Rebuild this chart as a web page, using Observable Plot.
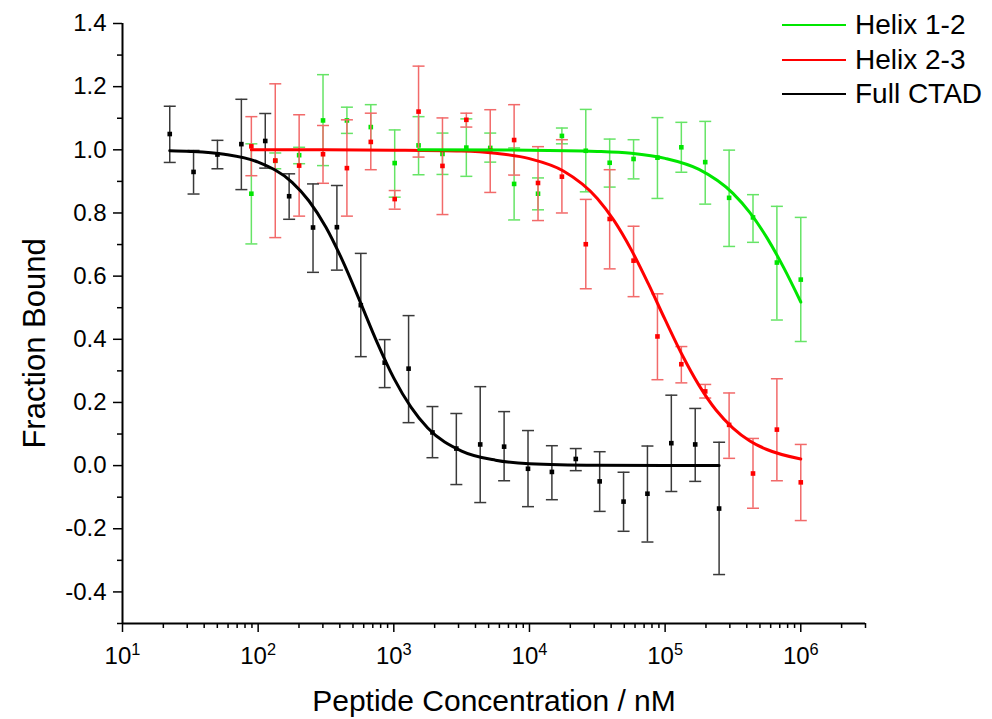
<!DOCTYPE html>
<html><head><meta charset="utf-8">
<script src="https://cdn.jsdelivr.net/npm/d3@7"></script>
<script src="https://cdn.jsdelivr.net/npm/@observablehq/plot@0.6"></script>
<style>
body{margin:0;background:#fff;font-family:"Liberation Sans",Arial,sans-serif;}
#wrap{position:relative;width:992px;height:719px;}
.lg{position:absolute;left:782px;width:210px;height:34px;}
.lg .sw{position:absolute;left:0;top:16px;width:64px;height:2px;}
.lg .tx{position:absolute;left:73px;top:0;font-size:28px;line-height:34px;color:#000;white-space:nowrap;}
</style></head><body><div id="wrap"></div>
<script>
// ---- data ----
const seriesNames = ["Helix 1-2", "Helix 2-3", "Full CTAD"];
const seriesColors = ["#00e600", "#ff0000", "#000000"];
const barColors = ["#66e466", "#f26a6a", "#3a3a3a"];

const concCTAD = [22.3, 33.4, 50.1, 75.2, 112.8, 169.2, 253.8, 380.6, 571, 856.5, 1285, 1927, 2890, 4335, 6503, 9755, 14632, 21948, 32922, 49383, 74074, 111111, 166667, 250000];
const ctadY  = [1.050, 0.930, 0.985, 1.018, 1.028, 0.853, 0.754, 0.755, 0.508, 0.326, 0.307, 0.105, 0.054, 0.067, 0.060, -0.010, -0.020, 0.021, -0.050, -0.114, -0.089, 0.071, 0.067, -0.136];
const ctadLo = [0.960, 0.860, 0.940, 0.874, 0.942, 0.780, 0.612, 0.619, 0.345, 0.247, 0.136, 0.025, -0.060, -0.117, -0.048, -0.130, -0.108, -0.016, -0.145, -0.208, -0.242, -0.082, -0.050, -0.345];
const ctadHi = [1.138, 0.998, 1.030, 1.160, 1.115, 0.924, 0.892, 0.887, 0.672, 0.399, 0.475, 0.187, 0.165, 0.250, 0.171, 0.111, 0.063, 0.054, 0.044, -0.021, 0.062, 0.223, 0.181, 0.074];

const concHelix = [89.1, 133.7, 200.5, 300.7, 451.1, 676.6, 1015, 1522, 2284, 3425, 5138, 7707, 11561, 17342, 26012, 39018, 58528, 87791, 131687, 197531, 296296, 444444, 666667, 1000000];
const h23Y  = [1.011, 0.966, 0.950, 0.986, 0.942, 1.025, 0.844, 1.121, 0.949, 1.095, 0.998, 1.031, 0.895, 0.915, 0.701, 0.781, 0.649, 0.409, 0.321, 0.235, 0.129, -0.025, 0.114, -0.053];
const h23Lo = [0.918, 0.722, 0.790, 0.894, 0.790, 0.937, 0.812, 0.977, 0.795, 1.072, 0.865, 0.920, 0.776, 0.800, 0.560, 0.623, 0.535, 0.272, 0.262, 0.214, 0.023, -0.135, -0.048, -0.174];
const h23Hi = [1.105, 1.209, 1.111, 1.077, 1.095, 1.116, 0.871, 1.265, 1.101, 1.116, 1.127, 1.143, 1.010, 1.032, 0.843, 0.937, 0.758, 0.544, 0.377, 0.257, 0.230, 0.086, 0.275, 0.067];
const h12Y  = [0.861, 0.965, 0.983, 1.093, 1.093, 1.072, 0.958, 1.014, 0.987, 1.007, 1.006, 0.892, 0.861, 1.044, 0.997, 0.959, 0.971, 0.975, 1.008, 0.961, 0.848, 0.786, 0.643, 0.589];
const h12Lo = [0.702, 0.940, 0.956, 0.950, 1.052, 1.000, 0.850, 0.921, 0.922, 0.916, 0.961, 0.778, 0.810, 1.019, 0.867, 0.882, 0.908, 0.846, 0.929, 0.828, 0.694, 0.707, 0.461, 0.393];
const h12Hi = [1.019, 0.990, 1.008, 1.238, 1.135, 1.143, 1.063, 1.105, 1.053, 1.098, 1.053, 1.006, 0.911, 1.069, 1.128, 1.034, 1.032, 1.102, 1.087, 1.090, 0.999, 0.858, 0.821, 0.786];

// fitted curves, points
const fitCTADx = [22.3, 31.6, 56.2, 100, 178, 237, 316, 422, 562, 750, 1000, 1334, 1778, 3162, 5623, 10000, 31623, 100000, 250000];
const fitCTADy = [0.997, 0.995, 0.986, 0.961, 0.897, 0.838, 0.755, 0.646, 0.521, 0.392, 0.277, 0.186, 0.119, 0.046, 0.017, 0.006, 0.001, 0.000, 0.000];
const fitH23x = [89.1, 316, 1000, 3162, 5623, 10000, 17783, 31623, 42170, 56234, 74989, 100000, 133352, 177828, 237137, 316228, 421697, 562341, 1000000];
const fitH23y = [1.000, 1.000, 0.999, 0.996, 0.989, 0.972, 0.933, 0.846, 0.775, 0.684, 0.577, 0.462, 0.351, 0.254, 0.176, 0.119, 0.078, 0.051, 0.021];
const fitH12x = [1522, 10000, 31623, 56234, 100000, 177828, 316228, 421697, 562341, 749894, 1000000];
const fitH12y = [1.000, 0.999, 0.995, 0.989, 0.973, 0.938, 0.862, 0.801, 0.722, 0.626, 0.518];

const xMajor = [10, 100, 1000, 10000, 100000, 1000000];
const xMinor = [20,30,40,50,60,70,80,90,200,300,400,500,600,700,800,900,2000,3000,4000,5000,6000,7000,8000,9000,
  20000,30000,40000,50000,60000,70000,80000,90000,200000,300000,400000,500000,600000,700000,800000,900000,2000000,3000000];
const yMajor = [-0.4, -0.2, 0.0, 0.2, 0.4, 0.6, 0.8, 1.0, 1.2, 1.4];
const yMinor = [-0.5, -0.3, -0.1, 0.1, 0.3, 0.5, 0.7, 0.9, 1.1, 1.3];
const xTitle = "Peptide Concentration / nM";
const yTitle = "Fraction Bound";

// ---- build tables ----
function pts(conc, y, lo, hi, s) { return conc.map((c, i) => ({c, y: y[i], lo: lo[i], hi: hi[i], s})); }
function fit(x, y, s) { return x.map((c, i) => ({c, y: y[i], s})); }
const scatter = [
  pts(concHelix, h12Y, h12Lo, h12Hi, 0),
  pts(concHelix, h23Y, h23Lo, h23Hi, 1),
  pts(concCTAD, ctadY, ctadLo, ctadHi, 2)
];
const fits = [fit(fitH12x, fitH12y, 0), fit(fitH23x, fitH23y, 1), fit(fitCTADx, fitCTADy, 2)];

const cap = {draw(ctx) { ctx.moveTo(-6, 0); ctx.lineTo(6, 0); }};

const marks = [];
for (const s of [0, 1, 2]) {
  const d = scatter[s];
  marks.push(Plot.ruleX(d, {x: "c", y1: "lo", y2: "hi", stroke: barColors[s], strokeWidth: 1.5}));
  marks.push(Plot.dot(d, {x: "c", y: "lo", symbol: cap, stroke: barColors[s], strokeWidth: 1.5, fill: "none"}));
  marks.push(Plot.dot(d, {x: "c", y: "hi", symbol: cap, stroke: barColors[s], strokeWidth: 1.5, fill: "none"}));
  marks.push(Plot.dot(d, {x: "c", y: "y", symbol: "square", r: 2.6, fill: seriesColors[s], stroke: "none"}));
}
for (const s of [1, 0, 2]) {
  marks.push(Plot.line(fits[s], {x: "c", y: "y", stroke: seriesColors[s], strokeWidth: 3, curve: "monotone-x"}));
}

const chart = Plot.plot({
  width: 992, height: 719,
  marginLeft: 122, marginRight: 127, marginTop: 23, marginBottom: 96,
  style: {fontFamily: '"Liberation Sans", Arial, sans-serif', fontSize: "24px", color: "#000", background: "#fff"},
  x: {type: "log", domain: [10, 3000000]},
  y: {domain: [-0.5, 1.4]},
  marks: [
    ...marks,
    Plot.ruleX([10], {stroke: "#000", strokeWidth: 2}),
    Plot.ruleY([-0.5], {stroke: "#000", strokeWidth: 2}),
    Plot.axisY(yMajor, {tickSize: 9, tickPadding: 7, strokeWidth: 1.5, tickFormat: d => d.toFixed(1), label: null}),
    Plot.axisY(yMinor, {tickSize: 5, strokeWidth: 1.5, tickFormat: () => "", label: null}),
    Plot.axisX(xMajor, {tickSize: 9, tickPadding: 14, strokeWidth: 1.5, tickFormat: d => "10^" + Math.round(Math.log10(d)), label: null}),
    Plot.axisX(xMinor, {tickSize: 5, strokeWidth: 1.5, tickFormat: () => "", label: null}),
    Plot.text([xTitle], {frameAnchor: "bottom", dy: 78, fontSize: 30, textAnchor: "middle", lineAnchor: "middle"}),
    Plot.text([yTitle], {frameAnchor: "left", dx: -87, dy: 20, rotate: -90, fontSize: 31, textAnchor: "middle", lineAnchor: "middle"})
  ]
});

// superscript exponents on the x tick labels
chart.querySelectorAll('g[aria-label="x-axis tick label"] text').forEach(t => {
  const s = t.textContent;
  if (s.indexOf("^") < 0) return;
  const [b, e] = s.split("^");
  t.textContent = b;
  const ts = document.createElementNS("http://www.w3.org/2000/svg", "tspan");
  ts.setAttribute("dy", "-0.5em");
  ts.setAttribute("font-size", "0.68em");
  ts.textContent = e;
  t.appendChild(ts);
});

const wrap = document.getElementById("wrap");
wrap.appendChild(chart);
seriesNames.forEach((n, i) => {
  const div = document.createElement("div");
  div.className = "lg";
  div.style.top = (8 + i * 34.5) + "px";
  div.innerHTML = `<div class="sw" style="background:${seriesColors[i]}"></div><div class="tx">${n}</div>`;
  wrap.appendChild(div);
});
</script></body></html>
